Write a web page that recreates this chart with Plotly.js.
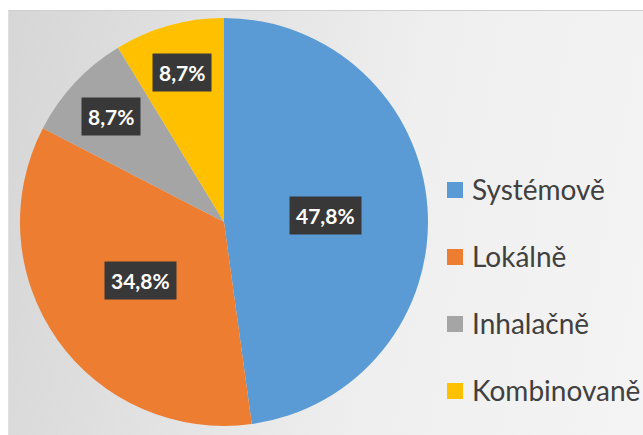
<!DOCTYPE html>
<html>
<head>
<meta charset="utf-8">
<script src="https://cdn.plot.ly/plotly-3.0.1.min.js"></script>
<style>
html,body{margin:0;padding:0;background:#fff;}
#wrap{position:relative;width:643px;height:435px;overflow:hidden;background:#fff;}
#bg{position:absolute;left:8px;top:10px;width:635px;height:425px;border-top:1px solid #cfcfcf;border-left:1px solid #e0e0e0;
background:linear-gradient(100deg,#d6d6d6 0%,#e2e2e2 30%,#efefef 60%,#f4f4f4 100%);}
#chart{position:absolute;left:0;top:0;width:643px;height:435px;}
</style>
</head>
<body>
<div id="wrap"><div id="bg"></div><div id="chart"></div></div>
<script>
const categories = ['Systémově', 'Lokálně', 'Inhalačně', 'Kombinovaně'];
const counts = [11, 8, 2, 2];
const colors = ['#5b9bd5', '#ed7d31', '#a5a5a5', '#ffc000'];

const W = 643, H = 435;
const cxPx = 224, cyPx = 222, rPx = 204;
const domX = [(cxPx - rPx) / W, (cxPx + rPx) / W];
const domY = [(H - cyPx - rPx) / H, (H - cyPx + rPx) / H];

const total = counts.reduce((a, b) => a + b, 0);
const annotations = [];
const shapes = [];
let cum = 0;
counts.forEach((v, i) => {
  const pct = v / total * 100;
  const mid = (cum + v / 2) / total * 2 * Math.PI;
  cum += v;
  const frac = pct > 20 ? 0.5 : 0.76;
  const px = cxPx + rPx * frac * Math.sin(mid);
  const py = cyPx - rPx * frac * Math.cos(mid);
  annotations.push({
    xref: 'paper', yref: 'paper', x: px / W, y: 1 - py / H,
    text: pct.toFixed(1).replace('.', ',') + '%', showarrow: false,
    font: {family: 'Lato, sans-serif', size: 21, color: '#ffffff', weight: 'bold'},
    bgcolor: '#383838', borderpad: 6, xanchor: 'center', yanchor: 'middle'
  });
});

// manual legend
categories.forEach((c, i) => {
  const ly = 190 + i * 67;
  shapes.push({type: 'rect', xref: 'paper', yref: 'paper', layer: 'above',
    x0: 447 / W, x1: 463 / W, y0: 1 - (ly + 8) / H, y1: 1 - (ly - 8) / H,
    fillcolor: colors[i], line: {width: 0}});
  annotations.push({xref: 'paper', yref: 'paper', x: 470 / W, y: 1 - (ly - 1) / H,
    text: c, showarrow: false, xanchor: 'left', yanchor: 'middle',
    font: {family: 'Lato, sans-serif', size: 28, color: '#404040'}});
});

const data = [{
  type: 'pie', labels: categories, values: counts, sort: false,
  direction: 'clockwise', rotation: 0, textinfo: 'none',
  marker: {colors: colors, line: {width: 0}},
  domain: {x: domX, y: domY}, hoverinfo: 'label+percent'
}];

const layout = {
  width: W, height: H, margin: {l: 0, r: 0, t: 0, b: 0},
  paper_bgcolor: 'rgba(0,0,0,0)', plot_bgcolor: 'rgba(0,0,0,0)',
  showlegend: false, annotations: annotations, shapes: shapes
};

Plotly.newPlot('chart', data, layout, {displayModeBar: false, staticPlot: true});
</script>
</body>
</html>
